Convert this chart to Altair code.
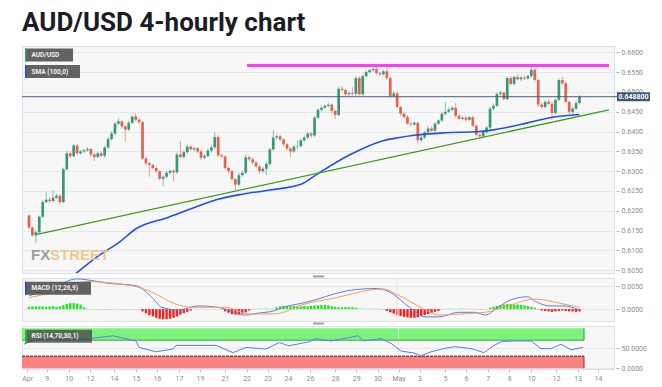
import json
import altair as alt
import pandas as pd
import numpy as np

# ---------------- data ----------------
first_open = 0.6188
closes = [
    0.6158, 0.6138, 0.6146, 0.6185, 0.6222, 0.6228, 0.6225, 0.6233, 0.6238, 0.6222,
    0.6305, 0.6345, 0.6338, 0.6365, 0.6345, 0.6350, 0.6353, 0.6356, 0.6342, 0.6336,
    0.6345, 0.6339, 0.6360, 0.6381, 0.6395, 0.6420, 0.6426, 0.6413, 0.6405, 0.6422,
    0.6438, 0.6430, 0.6424, 0.6332, 0.6320, 0.6316, 0.6308, 0.6300, 0.6281, 0.6286,
    0.6296, 0.6301, 0.6297, 0.6342, 0.6336, 0.6348, 0.6362, 0.6355, 0.6358, 0.6350,
    0.6334, 0.6338, 0.6352, 0.6360, 0.6386, 0.6340, 0.6337, 0.6308, 0.6300, 0.6280,
    0.6266, 0.6290, 0.6296, 0.6335, 0.6330, 0.6322, 0.6312, 0.6300, 0.6306, 0.6318,
    0.6355, 0.6385, 0.6388, 0.6380, 0.6368, 0.6357, 0.6350, 0.6362, 0.6363, 0.6378,
    0.6385, 0.6395, 0.6390, 0.6435, 0.6455, 0.6460, 0.6465, 0.6468, 0.6452, 0.6442,
    0.6508, 0.6505, 0.6494, 0.6497, 0.6495, 0.6535, 0.6494, 0.6540, 0.6550, 0.6555,
    0.6558, 0.6548, 0.6545, 0.6552, 0.6535, 0.6490, 0.6496, 0.6462, 0.6445, 0.6437,
    0.6420, 0.6418, 0.6422, 0.6378, 0.6385, 0.6398, 0.6408, 0.6402, 0.6420, 0.6428,
    0.6445, 0.6450, 0.6455, 0.6460, 0.6440, 0.6432, 0.6435, 0.6430, 0.6436, 0.6415,
    0.6392, 0.6388, 0.6398, 0.6410, 0.6458, 0.6465, 0.6495, 0.6498, 0.6482, 0.6535,
    0.6520, 0.6538, 0.6532, 0.6536, 0.6534, 0.6540, 0.6556, 0.6530, 0.6468, 0.6462,
    0.6475, 0.6470, 0.6447, 0.6480, 0.6530, 0.6522, 0.6475, 0.6450, 0.6458, 0.6472,
    0.6488,
]
upper_wick_pips = [
    3, 2, 4, 3, 5, 20, 6, 19, 5, 4,
    4, 6, 5, 4, 3, 4, 3, 5, 3, 3,
    4, 5, 4, 6, 5, 4, 7, 3, 4, 5,
    3, 8, 4, 3, 5, 4, 3, 4, 3, 4,
    5, 3, 4, 6, 35, 4, 5, 3, 4, 3,
    3, 5, 6, 6, 12, 5, 4, 3, 4, 3,
    3, 5, 6, 8, 4, 3, 4, 3, 5, 6,
    4, 18, 5, 4, 3, 3, 4, 5, 15, 4,
    5, 3, 4, 5, 4, 6, 3, 5, 3, 4,
    5, 7, 3, 5, 15, 4, 5, 4, 5, 3,
    8, 10, 4, 5, 15, 4, 6, 4, 3, 4,
    5, 3, 4, 3, 5, 4, 6, 5, 4, 3,
    5, 25, 6, 4, 12, 3, 4, 5, 3, 4,
    3, 4, 5, 4, 5, 6, 4, 5, 3, 4,
    5, 3, 6, 4, 5, 3, 10, 4, 3, 5,
    4, 6, 5, 4, 5, 8, 4, 3, 5, 6,
    4,
]
lower_wick_pips = [
    4, 4, 20, 3, 4, 3, 5, 4, 3, 6,
    3, 4, 5, 3, 4, 3, 5, 4, 6, 11,
    3, 4, 5, 4, 3, 5, 4, 6, 30, 4,
    3, 4, 5, 4, 6, 30, 4, 5, 4, 18,
    3, 5, 22, 4, 3, 5, 4, 3, 5, 4,
    6, 4, 3, 5, 4, 5, 3, 4, 5, 4,
    14, 5, 4, 3, 5, 4, 3, 6, 5, 16,
    4, 3, 5, 4, 6, 5, 15, 4, 8, 3,
    5, 4, 6, 3, 4, 5, 3, 4, 5, 10,
    3, 4, 5, 3, 4, 5, 3, 4, 5, 3,
    4, 5, 4, 3, 5, 6, 4, 3, 5, 4,
    3, 5, 4, 8, 4, 5, 3, 4, 5, 3,
    4, 5, 3, 4, 5, 3, 4, 6, 3, 4,
    5, 8, 4, 3, 5, 4, 3, 5, 4, 3,
    5, 4, 3, 5, 4, 3, 4, 5, 6, 4,
    5, 3, 17, 4, 3, 5, 4, 6, 5, 4,
    3,
]

sma_i = [12, 20.5, 26.3, 31, 40.6, 48.3, 54.9, 62, 69.7, 79.1, 84, 93.4, 102.9,
         107.7, 111.4, 121.1, 130.6, 135.4, 144.9, 151.4, 160]
sma_v = [0.6030, 0.6088, 0.6121, 0.6154, 0.6184, 0.6209, 0.6229, 0.6242, 0.6252,
         0.6267, 0.6294, 0.6342, 0.6377, 0.6385, 0.6390, 0.6397, 0.6400, 0.6405,
         0.6422, 0.6435, 0.6443]

trend_i = [2, 168.57]
trend_v = [0.6140, 0.6455]
resist_i = [63.4, 168.57]
resist_v = 0.6567
last_price = 0.6488

macd_i = [0, 7.1, 14, 18.6, 22.6, 31.1, 35.7, 38.6, 43.4, 49.1, 54.9, 59.7, 62.6,
          66.3, 71.1, 74, 80.6, 84, 88.6, 95.4, 101.1, 104.9, 110.6, 115.4, 119.1,
          124.9, 129.7, 132.6, 136.3, 140, 144.9, 146.9, 151.4, 155.4, 160]
macd_v = [0.0029, 0.0048, 0.0066, 0.0062, 0.0057, 0.0051, 0.0026, 0.0004, -0.0002,
          0.0007, 0.0004, -0.0007, -0.0013, -0.0009, -0.0004, 0.0004, 0.0015, 0.0022,
          0.0033, 0.0043, 0.0045, 0.0037, 0.0004, -0.0017, -0.0017, -0.0007, -0.0007,
          -0.0013, 0.0004, 0.0020, 0.0027, 0.0018, 0.0007, 0.0007, -0.0002]
signal_i = [0, 7.1, 16.9, 30, 35.7, 42.6, 47.1, 56.9, 64.3, 72, 79.1, 88.6, 102.9,
            107.7, 114.3, 119.1, 126.9, 132.6, 139.1, 146.9, 155.4, 160]
signal_v = [0.0025, 0.0037, 0.0060, 0.0051, 0.0037, 0.0011, 0.0004, 0.0004, -0.0011,
            -0.0010, 0.0009, 0.0024, 0.0044, 0.0029, 0.0002, -0.0013, -0.0010, -0.0007,
            0.0007, 0.0022, 0.0011, 0.0004]
hist_e4 = [
    5, 6, 6, 6,
    6, 5, 6, 6, 5, 6,
    9, 11, 13, 13, 12, 10,
    4, 2,
    -1, -1, -2, -1, -1, -2, -1, -1, -1, -2, -1, -1, -1, -1,
    -2, -5, -9, -13, -16, -19, -21, -22, -22, -21, -19, -16, -12, -9, -6, -3,
    1, -1, 1, 1, -1, 1, -1, -1, -2,
    -5, -8, -11, -12, -12, -10, -7, -3,
    1, 1, 2, 1, 2, 1, 2,
    4, 6, 7, 7, 6, 7, 6, 6, 7, 6, 7, 8,
    8, 9, 9, 8, 6,
    5, 4, 4, 5, 4, 4, 3,
    2, 2, 1, 2, 2, 1, 1,
    -2, -4, -7, -10, -13, -15, -17, -18, -19, -19, -18, -16, -13, -11, -8, -6, -4, -2,
    1, 2, 2, 1, 2, 2, 1, 2, 1,
    -1, -2, -1, -1,
    3, 5, 7, 9, 10, 11, 11, 10, 10, 9, 8, 7, 5, 3,
    -2, -3, -4, -5, -6, -5, -4, -3, -4, -5, -5, -6, -5,
]

rsi_i = [0, 3.4, 12, 18.6, 25.4, 30, 32, 32.9, 37.7, 42.6, 43.4, 46.3, 51.1, 54.9,
         59.7, 63.4, 69.1, 72.9, 75.7, 81.4, 83.4, 87.7, 95.4, 97.1, 102, 104.9,
         107.7, 111.4, 113.4, 116.3, 120, 122.9, 127.7, 131.4, 134.3, 136.3, 139.1,
         144.9, 147.7, 150.6, 153.4, 156.3, 159.7]
rsi_v = [60, 72, 72, 74, 81, 72, 68, 52, 41, 48, 57, 57, 57, 57, 39, 52, 48, 64, 56,
         66, 74, 68, 81, 68, 74, 62, 43, 38, 31, 41, 49, 54, 49, 39, 57, 66, 68, 68,
         49, 49, 60, 46, 52]
rsi_upper_band = [70, 100]
rsi_lower_band = [0, 30]

xtick_pos = [0.9, 6.5, 12.8, 18.9, 25.7, 32.0, 38.0, 44.3, 50.3, 57.4, 63.6, 69.6,
             75.4, 81.7, 88.9, 94.9, 101.0, 107.0, 113.0, 120.3, 126.3, 132.5, 138.6,
             144.9, 152.0, 158.2, 164.0]
xtick_labels = ["Apr", "9", "10", "12", "14", "15", "16", "17", "19", "21", "22", "23",
                "24", "26", "28", "29", "30", "May", "3", "5", "6", "7", "8", "10",
                "12", "13", "14"]
price_ticks = [0.6050, 0.6100, 0.6150, 0.6200, 0.6250, 0.6300, 0.6350, 0.6400,
               0.6450, 0.6500, 0.6550, 0.6600]
macd_ticks = [0.0, 0.005]
rsi_ticks = [0, 50]
month_start_i = 107.0

# ---------------- style ----------------
W, H_MAIN, H_SUB = 592, 227, 43
UP, DOWN = "#3a987a", "#e0634f"
LABEL_GRAY = "#8c8c8c"
X0, X1 = -0.57, 168.57

# ---------------- tables ----------------
N = len(closes)
opens = [first_open] + closes[:-1]
candles = pd.DataFrame({"i": list(range(N)), "open": opens, "close": closes})
candles["high"] = candles[["open", "close"]].max(axis=1) + np.array(upper_wick_pips) / 10000
candles["low"] = candles[["open", "close"]].min(axis=1) - np.array(lower_wick_pips) / 10000
candles["col"] = np.where(candles["close"] >= candles["open"], UP, DOWN)

sma_df = pd.DataFrame({"i": sma_i, "v": sma_v})
trend_df = pd.DataFrame({"i": trend_i, "v": trend_v})
resist_df = pd.DataFrame({"i": [resist_i[0]], "i2": [resist_i[1]], "v": [resist_v]})
macd_df = pd.DataFrame({"i": macd_i, "v": macd_v})
signal_df = pd.DataFrame({"i": signal_i, "v": signal_v})
hist_df = pd.DataFrame({"i": list(range(len(hist_e4))), "h": np.array(hist_e4) / 10000, "z": 0.0})
hist_df["col"] = ["#1ee81e" if v >= 3 else ("#a6efa6" if v > 0 else ("#ff1c1c" if v <= -3 else "#f6b3b3"))
                  for v in hist_e4]
rsi_df = pd.DataFrame({"i": rsi_i, "v": rsi_v})
last_i = N - 1
ob_df = pd.DataFrame({"i": [X0], "i2": [last_i], "lo": [rsi_upper_band[0]], "hi": [rsi_upper_band[1]]})
os_df = pd.DataFrame({"i": [X0], "i2": [last_i], "lo": [rsi_lower_band[0]], "hi": [rsi_lower_band[1]]})
one = pd.DataFrame({"k": [0]})
month_df = pd.DataFrame({"i": [month_start_i]})
tag_df = pd.DataFrame({"v": [last_price], "t": [f"{last_price:.6f}"]})

xs = alt.Scale(domain=[X0, X1], nice=False, zero=False)
ys_main = alt.Scale(domain=[0.6043, 0.6616], nice=False, zero=False)
ys_macd = alt.Scale(domain=[-0.0026, 0.0068], nice=False, zero=False)
ys_rsi = alt.Scale(domain=[-2, 105.5], nice=False, zero=False)


def yaxis(values):
    return alt.Axis(orient="right", values=values, format=".4f", title=None, domain=False,
                    grid=True, gridColor="#e7e7e7", ticks=True, tickColor="#b8b8b8",
                    tickSize=3, labelColor=LABEL_GRAY, labelFontSize=7, labelPadding=2,
                    offset=2, labelOverlap=False, labelFlush=False, labelBound=False)


AX_MAIN = yaxis(price_ticks)
AX_MACD = yaxis(macd_ticks)
AX_RSI = yaxis(rsi_ticks)
AX_X = alt.Axis(values=xtick_pos,
                labelExpr=f"{json.dumps(xtick_labels)}[indexof({json.dumps(xtick_pos)}, datum.value)]",
                title=None, domain=False, grid=False, ticks=True, tickSize=3,
                tickColor="#c4c4c4", labelColor=LABEL_GRAY, labelFontSize=7,
                labelPadding=2, labelFlush=False, labelOverlap=False, labelBound=False)


def XN(field="i"):
    return alt.X(f"{field}:Q", scale=xs, axis=None)


def XR(field="i"):
    return alt.X(f"{field}:Q", scale=xs, axis=AX_X)


def legend_box(label, strip_color, width, y0, box_color="#555555", opacity=0.92):
    box = alt.Chart(one).mark_rect(color=box_color, opacity=opacity).encode(
        x=alt.value(3), x2=alt.value(3 + width), y=alt.value(y0), y2=alt.value(y0 + 13))
    strip = alt.Chart(one).mark_rect(color=strip_color).encode(
        x=alt.value(3), x2=alt.value(4.5), y=alt.value(y0), y2=alt.value(y0 + 13))
    txt = alt.Chart(one).mark_text(text=label, align="left", baseline="middle",
                                   fontSize=6.5, fontWeight="bold", color="#f2f2f2").encode(
        x=alt.value(9.5), y=alt.value(y0 + 6.5))
    return [box, strip, txt]


# ---------------- main panel ----------------
def YM(field):
    return alt.Y(f"{field}:Q", scale=ys_main, axis=AX_MAIN)


wicks = alt.Chart(candles).mark_rule(strokeWidth=1, opacity=0.6).encode(
    x=XN(), y=YM("low"), y2="high:Q", color=alt.Color("col:N", scale=None))
bodies = alt.Chart(candles).mark_bar(size=2.7).encode(
    x=XN(), y=YM("open"), y2="close:Q", color=alt.Color("col:N", scale=None))
sma = alt.Chart(sma_df).mark_line(color="#1f4ff0", strokeWidth=1.6, clip=True,
                                  interpolate="monotone").encode(x=XN(), y=YM("v"))
trend = alt.Chart(trend_df).mark_line(color="#3f9a1f", strokeWidth=1.3, clip=True).encode(
    x=XN(), y=YM("v"))
resist = alt.Chart(resist_df).mark_rule(color="#ff3cf0", strokeWidth=3).encode(
    x=XN(), x2="i2:Q", y=YM("v"))
price_line = alt.Chart(tag_df).mark_rule(color="#4a5d7e", strokeWidth=1).encode(
    x=alt.value(0), x2=alt.value(595), y=YM("v"))
tag_box = alt.Chart(tag_df).transform_calculate(
    hi="datum.v + 0.00115", lo="datum.v - 0.00115").mark_rect(color="#3f5779").encode(
    x=alt.value(595), x2=alt.value(628), y=YM("hi"), y2="lo:Q")
tag_txt = alt.Chart(tag_df).mark_text(color="white", fontSize=7, fontWeight="bold",
                                      align="center", baseline="middle").encode(
    x=alt.value(611.5), y=YM("v"), text="t:N")
wm1 = alt.Chart(one).mark_text(text="FX", align="left", baseline="alphabetic", fontSize=15,
                               fontWeight="bold", font="Liberation Sans",
                               color="#8f8f8f", opacity=0.85).encode(
    x=alt.value(9), y=alt.value(214))
wm2 = alt.Chart(one).mark_text(text="STREET", align="left", baseline="alphabetic", fontSize=15,
                               fontWeight="bold", font="Liberation Sans",
                               color="#f2c184", opacity=0.9).encode(
    x=alt.value(28), y=alt.value(214))
handle1 = alt.Chart(one).mark_rect(color="#a0a0a0").encode(
    x=alt.value(291), x2=alt.value(302), y=alt.value(229.5), y2=alt.value(231.5))

main = alt.layer(
    wicks, bodies, sma, trend, resist, price_line, tag_box, tag_txt, wm1, wm2, handle1,
    *legend_box("AUD/USD", UP, 48, 2.5),
    *legend_box("SMA (100,0)", "#1f4ff0", 55, 19),
).properties(width=W, height=H_MAIN)


# ---------------- MACD panel ----------------
def YD(field):
    return alt.Y(f"{field}:Q", scale=ys_macd, axis=AX_MACD)


hist = alt.Chart(hist_df).mark_bar(size=2.4).encode(
    x=XN(), y=YD("h"), y2="z:Q", color=alt.Color("col:N", scale=None))
month_m = alt.Chart(month_df).mark_rule(color="#e4e4e4").encode(x=XN())
macd_line = alt.Chart(macd_df).mark_line(color="#5a7cf2", strokeWidth=1,
                                         interpolate="monotone").encode(x=XN(), y=YD("v"))
signal_line = alt.Chart(signal_df).mark_line(color="#f5a055", strokeWidth=1,
                                             interpolate="monotone").encode(x=XN(), y=YD("v"))
handle2 = alt.Chart(one).mark_rect(color="#a0a0a0").encode(
    x=alt.value(291), x2=alt.value(302), y=alt.value(44.5), y2=alt.value(46.5))
macd = alt.layer(
    hist, month_m, macd_line, signal_line, handle2,
    *legend_box("MACD (12,26,9)", "#2040ff", 66, 3.8),
).properties(width=W, height=H_SUB)


# ---------------- RSI panel ----------------
def YR(field):
    return alt.Y(f"{field}:Q", scale=ys_rsi, axis=AX_RSI)


ob_rect = alt.Chart(ob_df).mark_rect(color="#7cf47c").encode(
    x=XR(), x2="i2:Q", y=YR("lo"), y2="hi:Q")
os_rect = alt.Chart(os_df).mark_rect(color="#f98282").encode(
    x=XR(), x2="i2:Q", y=YR("lo"), y2="hi:Q")
ob_edge = alt.Chart(ob_df).mark_rule(color="#2f9a2f", strokeWidth=1).encode(
    x=XR("i2"), y=YR("lo"), y2="hi:Q")
os_edge = alt.Chart(os_df).mark_rule(color="#9a2a2a", strokeWidth=1).encode(
    x=XR("i2"), y=YR("lo"), y2="hi:Q")
ob_bottom = alt.Chart(ob_df).mark_rule(color="#3da83d", strokeWidth=1).encode(
    x=XR(), x2="i2:Q", y=YR("lo"))
os_top = alt.Chart(os_df).mark_rule(color="#3a1515", strokeWidth=1, strokeDash=[3, 1]).encode(
    x=XR(), x2="i2:Q", y=YR("hi"))
month_r = alt.Chart(month_df).mark_rule(color="#e4e4e4").encode(x=XR())
rsi_line = alt.Chart(rsi_df).mark_line(color="#5a7cf2", strokeWidth=1).encode(
    x=XR(), y=YR("v"))
rsi = alt.layer(
    ob_rect, month_r, os_rect, ob_edge, os_edge, ob_bottom, os_top, rsi_line,
    *legend_box("RSI (14,70,30,1)", "#22cc22", 67, 3.8, box_color="#4a4a4a", opacity=0.8),
).properties(width=W, height=H_SUB)

chart = alt.vconcat(main, macd, rsi, spacing=5, bounds="flush").properties(
    title=alt.TitleParams(text="AUD/USD 4-hourly chart", anchor="start", fontSize=26,
                          fontWeight="bold", color="#1c1c25", font="Roboto", offset=10, dx=1),
    padding={"left": 13, "top": 1, "right": 0, "bottom": 0},
).configure(font="Roboto").configure_view(fill="#f7f7f7", stroke="#dcdfe8", strokeWidth=1)

chart.save("out.html", embed_options={"renderer": "svg", "actions": False})
